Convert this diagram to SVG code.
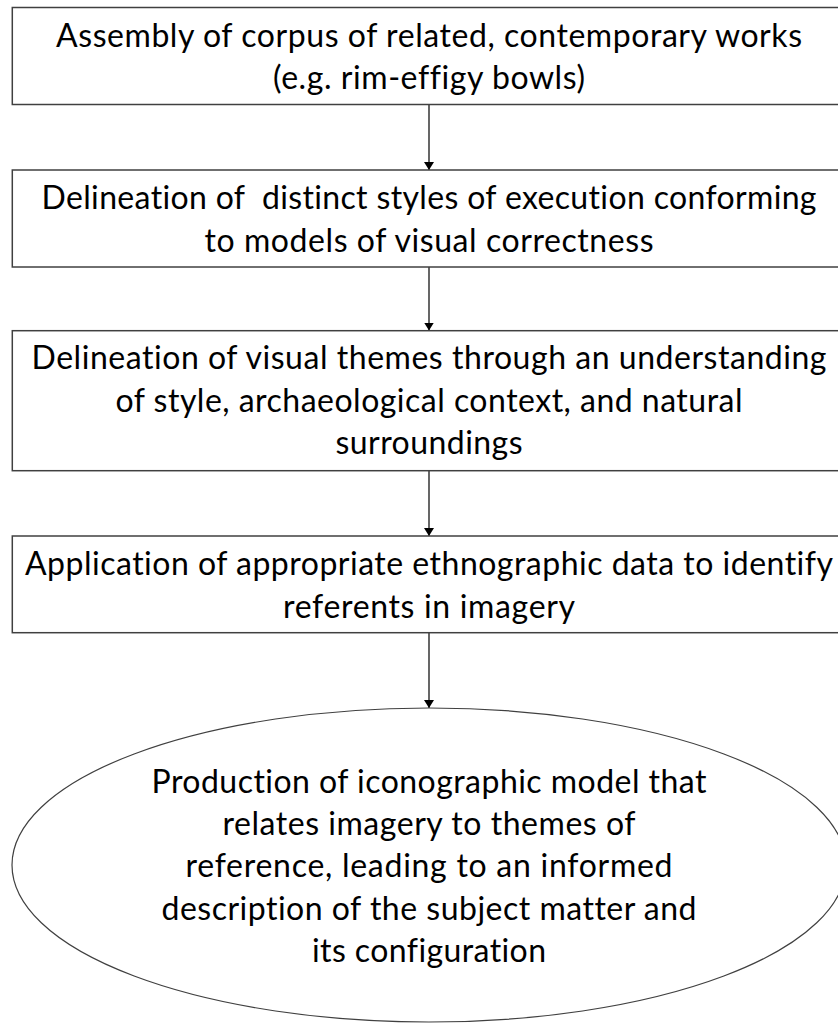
<svg xmlns="http://www.w3.org/2000/svg" width="838" height="1023" viewBox="0 0 838 1023">
<style>
.box{fill:#ffffff;stroke:#404040;stroke-width:1.5}
.oval{fill:#ffffff;stroke:#404040;stroke-width:1.2}
.lbl{font-family:Lato,"Open Sans","Liberation Sans",sans-serif;font-size:32px;fill:#000000;text-anchor:middle;font-variant-ligatures:none}
.conn{stroke:#000000;stroke-width:1.2;fill:none;marker-end:url(#arr)}
</style>
<defs>
<marker id="arr" viewBox="0 0 8 10" refX="8" refY="5" markerWidth="8" markerHeight="10" markerUnits="userSpaceOnUse" orient="auto-start-reverse">
<path d="M0,0 L8,5 L0,10 Z" fill="#000000"/>
</marker>
</defs>
<rect width="838" height="1023" fill="#ffffff"/>
<g id="connectors">
<line class="conn" x1="429" y1="104.5" x2="429" y2="170"/>
<line class="conn" x1="429" y1="267" x2="429" y2="330.5"/>
<line class="conn" x1="429" y1="470.7" x2="429" y2="536"/>
<line class="conn" x1="429" y1="632.7" x2="429" y2="708"/>
</g>
<g id="node1">
<rect class="box" x="12.3" y="7.5" width="834" height="97"/>
<text class="lbl" x="429" y="46.7" textLength="746">Assembly of corpus of related, contemporary works</text>
<text class="lbl" x="429" y="89" textLength="312">(e.g. rim-effigy bowls)</text>
</g>
<g id="node2">
<rect class="box" x="12.3" y="170" width="834" height="97"/>
<text class="lbl" x="429" y="209.2" textLength="775" xml:space="preserve">Delineation of  distinct styles of execution conforming</text>
<text class="lbl" x="429" y="251.5" textLength="449">to models of visual correctness</text>
</g>
<g id="node3">
<rect class="box" x="12.3" y="330.7" width="834" height="140"/>
<text class="lbl" x="429" y="369.3" textLength="795">Delineation of visual themes through an understanding</text>
<text class="lbl" x="429" y="411.7" textLength="627">of style, archaeological context, and natural</text>
<text class="lbl" x="429" y="454" textLength="187">surroundings</text>
</g>
<g id="node4">
<rect class="box" x="12.3" y="536" width="834" height="96.7"/>
<text class="lbl" x="429" y="575.2" textLength="808">Application of appropriate ethnographic data to identify</text>
<text class="lbl" x="429" y="617.5" textLength="292">referents in imagery</text>
</g>
<g id="node5">
<ellipse class="oval" cx="429" cy="865" rx="417" ry="157"/>
<text class="lbl" x="429" y="792.7" textLength="555">Production of iconographic model that</text>
<text class="lbl" x="429" y="835" textLength="413">relates imagery to themes of</text>
<text class="lbl" x="429" y="877.3" textLength="487">reference, leading to an informed</text>
<text class="lbl" x="429" y="919.6" textLength="535">description of the subject matter and</text>
<text class="lbl" x="429" y="962" textLength="234">its configuration</text>
</g>
</svg>
